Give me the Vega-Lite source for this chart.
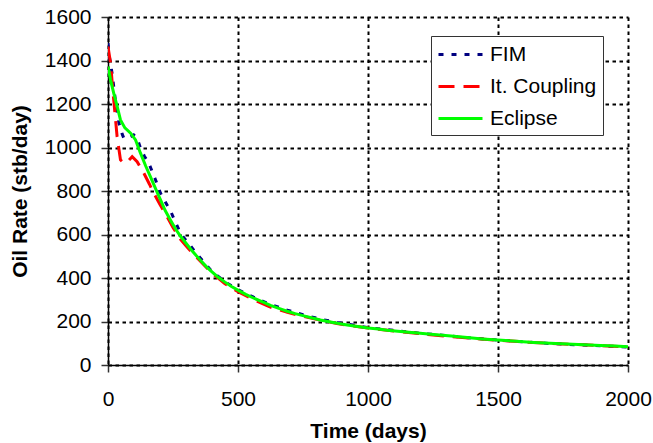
{
  "$schema": "https://vega.github.io/schema/vega-lite/v6.json",
  "autosize": {"type": "none"},
  "width": 520,
  "height": 348,
  "padding": {"left": 108, "top": 17, "right": 25, "bottom": 78},
  "background": "white",
  "datasets": {
    "rates": [
      {"series": "FIM", "day": 0, "rate": 1480},
      {"series": "FIM", "day": 5, "rate": 1420},
      {"series": "FIM", "day": 16, "rate": 1339},
      {"series": "FIM", "day": 29, "rate": 1211},
      {"series": "FIM", "day": 42, "rate": 1112},
      {"series": "FIM", "day": 55, "rate": 1060},
      {"series": "FIM", "day": 61, "rate": 1043},
      {"series": "FIM", "day": 75, "rate": 1040},
      {"series": "FIM", "day": 99, "rate": 1058},
      {"series": "FIM", "day": 112, "rate": 1043},
      {"series": "FIM", "day": 125, "rate": 997},
      {"series": "FIM", "day": 140, "rate": 960},
      {"series": "FIM", "day": 157, "rate": 928},
      {"series": "FIM", "day": 180, "rate": 860},
      {"series": "FIM", "day": 202, "rate": 790},
      {"series": "FIM", "day": 220, "rate": 750},
      {"series": "FIM", "day": 240, "rate": 710},
      {"series": "FIM", "day": 260, "rate": 655},
      {"series": "FIM", "day": 279, "rate": 606},
      {"series": "FIM", "day": 295, "rate": 580},
      {"series": "FIM", "day": 311, "rate": 558},
      {"series": "FIM", "day": 340, "rate": 512},
      {"series": "FIM", "day": 360, "rate": 485},
      {"series": "FIM", "day": 400, "rate": 430},
      {"series": "FIM", "day": 450, "rate": 382},
      {"series": "FIM", "day": 500, "rate": 346},
      {"series": "FIM", "day": 560, "rate": 312},
      {"series": "FIM", "day": 620, "rate": 280},
      {"series": "FIM", "day": 690, "rate": 252},
      {"series": "FIM", "day": 750, "rate": 231},
      {"series": "FIM", "day": 820, "rate": 210},
      {"series": "FIM", "day": 880, "rate": 196},
      {"series": "FIM", "day": 950, "rate": 182},
      {"series": "FIM", "day": 1000, "rate": 172},
      {"series": "FIM", "day": 1100, "rate": 159},
      {"series": "FIM", "day": 1200, "rate": 146},
      {"series": "FIM", "day": 1300, "rate": 135},
      {"series": "FIM", "day": 1400, "rate": 124},
      {"series": "FIM", "day": 1500, "rate": 115},
      {"series": "FIM", "day": 1600, "rate": 106},
      {"series": "FIM", "day": 1700, "rate": 99},
      {"series": "FIM", "day": 1800, "rate": 93},
      {"series": "FIM", "day": 1900, "rate": 88},
      {"series": "FIM", "day": 2000, "rate": 83},
      {"series": "It. Coupling", "day": 0, "rate": 1464},
      {"series": "It. Coupling", "day": 3, "rate": 1440},
      {"series": "It. Coupling", "day": 10, "rate": 1388},
      {"series": "It. Coupling", "day": 16, "rate": 1300},
      {"series": "It. Coupling", "day": 22, "rate": 1219},
      {"series": "It. Coupling", "day": 35, "rate": 1050},
      {"series": "It. Coupling", "day": 48, "rate": 943},
      {"series": "It. Coupling", "day": 61, "rate": 928},
      {"series": "It. Coupling", "day": 75, "rate": 935},
      {"series": "It. Coupling", "day": 93, "rate": 958},
      {"series": "It. Coupling", "day": 112, "rate": 935},
      {"series": "It. Coupling", "day": 138, "rate": 882},
      {"series": "It. Coupling", "day": 160, "rate": 830},
      {"series": "It. Coupling", "day": 176, "rate": 790},
      {"series": "It. Coupling", "day": 200, "rate": 738},
      {"series": "It. Coupling", "day": 228, "rate": 680},
      {"series": "It. Coupling", "day": 250, "rate": 632},
      {"series": "It. Coupling", "day": 279, "rate": 578},
      {"series": "It. Coupling", "day": 300, "rate": 548},
      {"series": "It. Coupling", "day": 330, "rate": 508},
      {"series": "It. Coupling", "day": 360, "rate": 472},
      {"series": "It. Coupling", "day": 400, "rate": 422},
      {"series": "It. Coupling", "day": 450, "rate": 374},
      {"series": "It. Coupling", "day": 500, "rate": 337},
      {"series": "It. Coupling", "day": 560, "rate": 300},
      {"series": "It. Coupling", "day": 620, "rate": 268},
      {"series": "It. Coupling", "day": 690, "rate": 242},
      {"series": "It. Coupling", "day": 750, "rate": 224},
      {"series": "It. Coupling", "day": 820, "rate": 205},
      {"series": "It. Coupling", "day": 880, "rate": 191},
      {"series": "It. Coupling", "day": 950, "rate": 178},
      {"series": "It. Coupling", "day": 1000, "rate": 170},
      {"series": "It. Coupling", "day": 1100, "rate": 156},
      {"series": "It. Coupling", "day": 1200, "rate": 144},
      {"series": "It. Coupling", "day": 1300, "rate": 132},
      {"series": "It. Coupling", "day": 1400, "rate": 123},
      {"series": "It. Coupling", "day": 1500, "rate": 114},
      {"series": "It. Coupling", "day": 1600, "rate": 106},
      {"series": "It. Coupling", "day": 1700, "rate": 99},
      {"series": "It. Coupling", "day": 1800, "rate": 94},
      {"series": "It. Coupling", "day": 1900, "rate": 89},
      {"series": "It. Coupling", "day": 2000, "rate": 83},
      {"series": "Eclipse", "day": 0, "rate": 1372},
      {"series": "Eclipse", "day": 10, "rate": 1310},
      {"series": "Eclipse", "day": 22, "rate": 1250},
      {"series": "Eclipse", "day": 35, "rate": 1190},
      {"series": "Eclipse", "day": 48, "rate": 1127},
      {"series": "Eclipse", "day": 65, "rate": 1090},
      {"series": "Eclipse", "day": 87, "rate": 1066},
      {"series": "Eclipse", "day": 106, "rate": 1035},
      {"series": "Eclipse", "day": 125, "rate": 974},
      {"series": "Eclipse", "day": 145, "rate": 915},
      {"series": "Eclipse", "day": 163, "rate": 866},
      {"series": "Eclipse", "day": 185, "rate": 805},
      {"series": "Eclipse", "day": 202, "rate": 759},
      {"series": "Eclipse", "day": 220, "rate": 710},
      {"series": "Eclipse", "day": 240, "rate": 667},
      {"series": "Eclipse", "day": 260, "rate": 625},
      {"series": "Eclipse", "day": 279, "rate": 592},
      {"series": "Eclipse", "day": 300, "rate": 560},
      {"series": "Eclipse", "day": 320, "rate": 530},
      {"series": "Eclipse", "day": 340, "rate": 502},
      {"series": "Eclipse", "day": 360, "rate": 476},
      {"series": "Eclipse", "day": 380, "rate": 450},
      {"series": "Eclipse", "day": 400, "rate": 428},
      {"series": "Eclipse", "day": 420, "rate": 407},
      {"series": "Eclipse", "day": 450, "rate": 381},
      {"series": "Eclipse", "day": 475, "rate": 361},
      {"series": "Eclipse", "day": 503, "rate": 342},
      {"series": "Eclipse", "day": 530, "rate": 325},
      {"series": "Eclipse", "day": 561, "rate": 307},
      {"series": "Eclipse", "day": 590, "rate": 292},
      {"series": "Eclipse", "day": 625, "rate": 274},
      {"series": "Eclipse", "day": 660, "rate": 259},
      {"series": "Eclipse", "day": 689, "rate": 247},
      {"series": "Eclipse", "day": 720, "rate": 236},
      {"series": "Eclipse", "day": 753, "rate": 226},
      {"series": "Eclipse", "day": 790, "rate": 215},
      {"series": "Eclipse", "day": 817, "rate": 207},
      {"series": "Eclipse", "day": 850, "rate": 199},
      {"series": "Eclipse", "day": 882, "rate": 192},
      {"series": "Eclipse", "day": 920, "rate": 184},
      {"series": "Eclipse", "day": 960, "rate": 177},
      {"series": "Eclipse", "day": 1000, "rate": 170},
      {"series": "Eclipse", "day": 1040, "rate": 165},
      {"series": "Eclipse", "day": 1074, "rate": 160},
      {"series": "Eclipse", "day": 1125, "rate": 154},
      {"series": "Eclipse", "day": 1190, "rate": 147},
      {"series": "Eclipse", "day": 1253, "rate": 140},
      {"series": "Eclipse", "day": 1320, "rate": 133},
      {"series": "Eclipse", "day": 1382, "rate": 126},
      {"series": "Eclipse", "day": 1440, "rate": 120},
      {"series": "Eclipse", "day": 1499, "rate": 115},
      {"series": "Eclipse", "day": 1570, "rate": 109},
      {"series": "Eclipse", "day": 1638, "rate": 104},
      {"series": "Eclipse", "day": 1700, "rate": 100},
      {"series": "Eclipse", "day": 1766, "rate": 96},
      {"series": "Eclipse", "day": 1830, "rate": 93},
      {"series": "Eclipse", "day": 1894, "rate": 90},
      {"series": "Eclipse", "day": 1950, "rate": 87},
      {"series": "Eclipse", "day": 2000, "rate": 84}
    ]
  },
  "data": {"name": "rates"},
  "encoding": {
    "x": {
      "field": "day",
      "type": "quantitative",
      "scale": {"domain": [0, 2000], "nice": false},
      "axis": {
        "title": "Time (days)",
        "values": [0, 500, 1000, 1500, 2000],
        "format": "d",
        "labelPadding": 16,
        "titleBaseline": "top",
        "titleY": 55
      }
    },
    "y": {
      "field": "rate",
      "type": "quantitative",
      "scale": {"domain": [0, 1600], "nice": false},
      "axis": {
        "title": "Oil Rate (stb/day)",
        "values": [0, 200, 400, 600, 800, 1000, 1200, 1400, 1600],
        "format": "d",
        "labelPadding": 10,
        "titleX": -78
      }
    },
    "color": {
      "field": "series",
      "type": "nominal",
      "scale": {
        "domain": ["FIM", "It. Coupling", "Eclipse"],
        "range": ["#000080", "#ff0000", "#00ff00"]
      },
      "legend": {
        "title": null,
        "orient": "none",
        "legendX": 323,
        "legendY": 19,
        "fillColor": "white",
        "strokeColor": "#333333",
        "padding": 6,
        "rowPadding": 9,
        "symbolType": "M-1,0L3,0",
        "symbolSize": 484,
        "symbolStrokeWidth": 3,
        "labelOffset": 28,
        "labelFontSize": 21,
        "labelColor": "black",
        "labelFont": "Liberation Sans",
        "encode": {
          "symbols": {
            "update": {
              "strokeDash": {"signal": "datum.value == 'FIM' ? [5, 8] : (datum.value == 'It. Coupling' ? [16, 9] : [])"}
            }
          }
        }
      }
    }
  },
  "layer": [
    {
      "transform": [{"filter": "datum.series == 'FIM'"}],
      "mark": {"type": "line", "strokeWidth": 3, "strokeDash": [5, 8], "clip": true}
    },
    {
      "transform": [{"filter": "datum.series == 'It. Coupling'"}],
      "mark": {"type": "line", "strokeWidth": 3, "strokeDash": [16, 9], "clip": true}
    },
    {
      "transform": [{"filter": "datum.series == 'Eclipse'"}],
      "mark": {"type": "line", "strokeWidth": 3, "clip": true}
    }
  ],
  "config": {
    "view": {"stroke": null},
    "font": "Liberation Sans",
    "axis": {
      "labelFontSize": 21,
      "titleFontSize": 21,
      "titleFontWeight": "bold",
      "labelColor": "black",
      "titleColor": "black",
      "domainColor": "black",
      "domainWidth": 1.5,
      "tickColor": "#333333",
      "tickWidth": 1.5,
      "tickSize": 7,
      "gridColor": "black",
      "gridDash": [3.5, 3.5],
      "gridWidth": 2,
      "gridOpacity": 1,
      "labelFlush": false,
      "labelOverlap": false
    }
  }
}
